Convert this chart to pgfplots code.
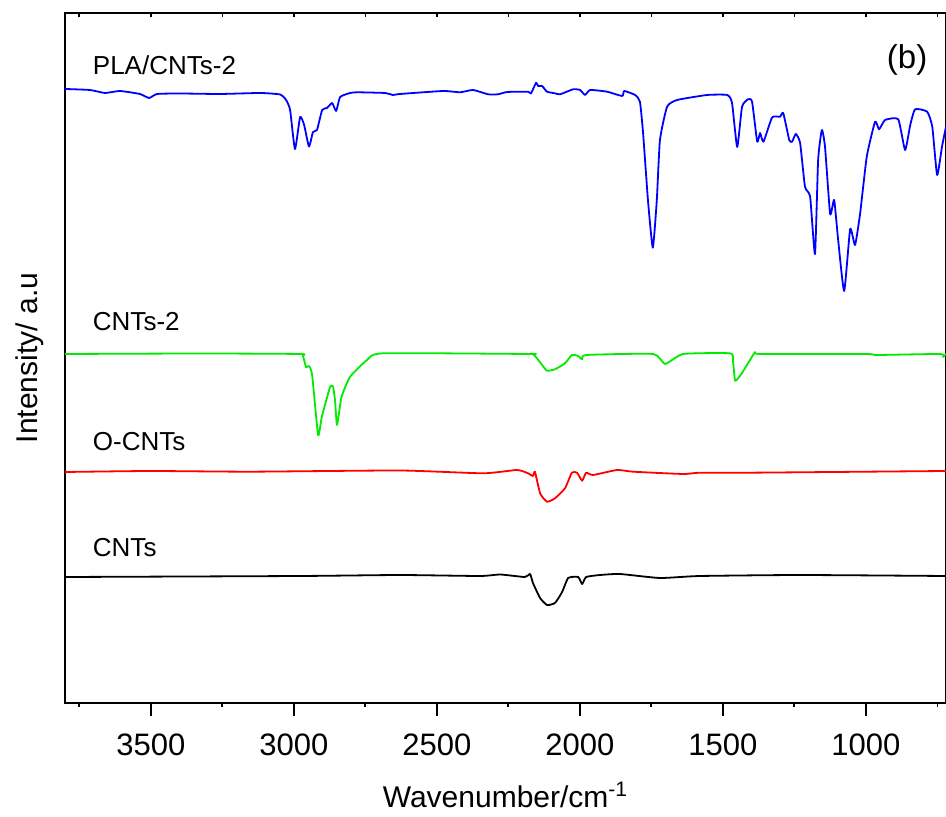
\documentclass[border=0pt]{standalone}
\usepackage{fontspec}
\setmainfont{Liberation Sans}
\usepackage{pgfplots}
\pgfplotsset{compat=1.18}

\definecolor{ftirblue}{RGB}{0,0,255}
\definecolor{ftirgreen}{RGB}{0,235,0}
\definecolor{ftirred}{RGB}{255,0,0}

\begin{document}
\begin{tikzpicture}
\begin{axis}[
    scale only axis,
    width=440.5pt, height=345pt,
    x dir=reverse,
    xmin=720, xmax=3800,
    ymin=0, ymax=690,
    ytick=\empty,
    xtick={1000,1500,2000,2500,3000,3500},
    minor xtick={750,1250,1750,2250,2750,3250,3750},
    xtick pos=bottom,
    tick align=outside,
    major tick length=6.5pt,
    minor tick length=2pt,
    axis line style={line width=1pt},
    every tick/.style={black, line width=0.9pt},
    /pgf/number format/assume math mode=true,
    /pgf/number format/1000 sep={},
    tick label style={font=\fontsize{15.5}{18}\selectfont},
    xticklabel style={yshift=-5.5pt},
    xlabel={Wavenumber/cm\textsuperscript{-1}},
    ylabel={Intensity/ a.u},
    label style={font=\fontsize{15}{18}\selectfont},
    xlabel style={at={(axis description cs:0.5,-0.1333)}, anchor=center},
    ylabel style={at={(axis description cs:-0.0397,0.5)}, anchor=center},
    every axis plot/.append style={line width=0.9pt, line join=round, smooth, tension=0.3},
    clip=true,
]
% PLA/CNTs-2
\addplot[ftirblue] coordinates {
(3800,614) (3713,613) (3660,610) (3608,612) (3538,609) (3506,605) (3478,609)
(3398,609.5) (3258,609) (3118,610) (3048,608.5) (3027,603) (3013,593) (2996,554)
(2978,586) (2964,578) (2947,556.5) (2933,571) (2919,573) (2901,593) (2884,595)
(2866,600) (2852,592) (2838,606) (2803,610) (2779,610.7) (2681,610) (2653,608)
(2629,609) (2478,612) (2419,610.7) (2373,613) (2321,608.7) (2286,608.7) (2254,611)
(2181,611.3) (2171,609.5) (2153,620.3) (2146,617) (2132,617) (2115,611.3)
(2087,609.7) (2069,608.7) (2024,613.7) (1999,613) (1982,608) (1964,613) (1905,611.3)
(1852,607) (1845,612) (1807,608) (1790,601.3) (1779,570) (1762,503) (1745,455.3)
(1731,503) (1720,563) (1695,596.3) (1660,603) (1555,608) (1485,608) (1468,600)
(1450,556) (1433,596.3) (1412,603.7) (1398,601.3) (1380,561.3) (1370,570)
(1358,561.3) (1328,585.5) (1300,586.3) (1289,590) (1268,563) (1258,561.3)
(1245,569) (1230,560) (1213,516.3) (1195,506.3) (1178,449) (1167,543) (1154,573)
(1143,556.3) (1125,489) (1111,503) (1097,463) (1076,412) (1055,474) (1038,458)
(1020,490) (997,546.3) (968,581.3) (954,573.7) (933,583) (887,583.7) (863,553)
(845,578) (828,593.7) (786,591.3) (768,576.3) (751,528) (734,556.3) (720,576.3)
};
% CNTs-2
\addplot[ftirgreen] coordinates {
(3800,349) (3328,349.5) (2978,349) (2968,347) (2957,335.7) (2947,337) (2936,328)
(2915,268) (2902,286.3) (2873,316.3) (2863,316.3) (2856,303) (2849,278)
(2833,306.3) (2803,326.3) (2744,343) (2688,349.7) (2174,349) (2164,349)
(2150,344.7) (2132,338) (2115,332.3) (2087,333.7) (2052,339.7) (2028,348)
(2006,347) (1992,343.7) (1978,348) (1744,349) (1702,339) (1639,349) (1475,349.7)
(1465,343) (1457,322.3) (1434,329.7) (1405,343) (1387,351) (1370,349) (1000,349)
(960,348) (740,349) (730,346) (720,349)
};
% O-CNTs
\addplot[ftirred] coordinates {
(3800,231) (3503,232) (3153,231.3) (2629,232.5) (2338,229.7) (2220,233)
(2181,229.7) (2164,227) (2157,231.3) (2139,209.7) (2115,201.3) (2087,204.7)
(2052,214.7) (2028,230.3) (2010,230.3) (1992,222.3) (1978,230.3) (1954,228)
(1870,233) (1814,231.3) (1639,229) (1580,230.3) (1405,230.3) (720,232)
};
% CNTs
\addplot[black] coordinates {
(3800,126) (2978,127) (2629,128) (2349,127) (2279,128.5) (2192,126) (2174,129)
(2164,120) (2139,105) (2115,98) (2087,100) (2062,111) (2041,125) (2006,126)
(1992,119) (1978,126) (1929,128) (1860,129) (1720,125) (1580,127) (1230,128)
(720,127)
};
\node[anchor=west, font=\fontsize{13}{15}\selectfont] at (axis cs:3727,638) {PLA/CNTs-2};
\node[anchor=west, font=\fontsize{13}{15}\selectfont] at (axis cs:3727,381) {CNTs-2};
\node[anchor=west, font=\fontsize{13}{15}\selectfont] at (axis cs:3727,261) {O-CNTs};
\node[anchor=west, font=\fontsize{13}{15}\selectfont] at (axis cs:3727,155) {CNTs};
\node[font=\fontsize{16.5}{18}\selectfont] at (axis cs:856,643) {(b)};
\end{axis}
% top axis ticks (inward, no labels)
\begin{axis}[
    scale only axis,
    width=440.5pt, height=345pt,
    x dir=reverse,
    xmin=720, xmax=3800,
    ymin=0, ymax=690,
    axis x line*=top,
    axis y line=none,
    xtick={750,1000,...,3750},
    xticklabels={},
    tick align=inside,
    major tick length=2pt,
    axis line style={line width=1pt, -},
    every tick/.style={black, line width=0.8pt},
]
\addplot[draw=none] coordinates {(720,0) (3800,690)};
\end{axis}
\pgfresetboundingbox
\path[use as bounding box] (current axis.south west) ++(-32.5pt,-57pt)
  rectangle ([shift={(0pt,6.5pt)}]current axis.north east);
\end{tikzpicture}
\end{document}
